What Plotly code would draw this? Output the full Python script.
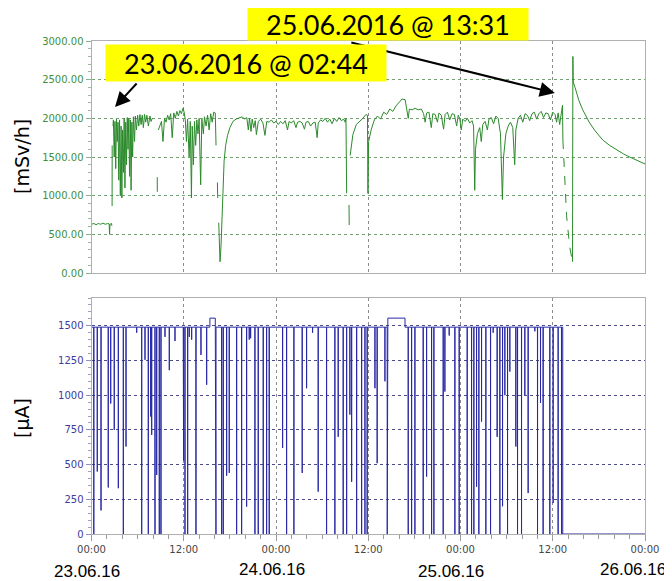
import plotly.graph_objects as go

# ---------------- data ----------------
# hours since 23.06.16 00:00
rad_hours = [0.0, 0.3, 0.6, 0.9, 1.2, 1.5, 1.8, 2.1, 2.3, 2.35, 2.4, 2.6, 2.65, None,
             2.68, 2.69, None,
             2.80, 2.85, 2.95, 3.05, 3.15, 3.25, 3.35, 3.45, 3.55, 3.65, 3.75, 3.85, 3.95, 4.05,
             4.15, 4.25, 4.35, 4.45, 4.55, 4.65, 4.75, 4.85, 4.95, 5.05, 5.15, 5.25, 5.35, 5.45,
             5.6, 5.7, 5.85, 6.0, 6.15, 6.3, 6.45, 6.6, 6.75, 6.9, 7.05, 7.2, 7.4, 7.6, 7.75, 7.9, None,
             8.55, 8.56, None,
             8.7, 8.9, 9.1, 9.3, 9.5, 9.7, 9.9, 10.1, 10.3, 10.5, 10.7, 10.9, 11.1, 11.3, 11.5, 11.7,
             11.9, 12.05, 12.2, 12.35, 12.5, 12.7, 12.85, 13.0, 13.1, 13.25, 13.4, 13.55, 13.7, 13.85,
             14.0, 14.2, 14.35, 14.55, 14.7, 14.9, 15.1, 15.3, 15.5, 15.7, 15.9, 16.05, 16.1, 16.2, None,
             16.38, 16.42, None,
             16.55, 16.65, 16.72, 16.85, 16.95, 17.1, 17.25, 17.45, 17.7, 18.0, 18.4, 18.8, 19.3,
             19.6, 19.9, 20.2, 20.4, 20.55, 20.75, 20.9, 21.1, 21.3, 21.45, 21.7, 22.0, 22.3, 22.56,
             22.8, 23.1, 23.4, 23.7, 24.0, 24.3, 24.6, 24.9, 25.2, 25.5, 25.7, 26.0, 26.3, 26.6, 26.8,
             27.1, 27.4, 27.7, 27.9, 28.2, 28.5, 28.8, 29.1, 29.35, 29.5, 29.8, 30.1, 30.4, 30.7, 31.0,
             31.3, 31.6, 31.9, 32.2, 32.5, 32.8, 33.0, 33.1, 33.19, None,
             33.5, 33.52, None,
             33.65, 34.0, 34.45, 34.8, 35.3, 35.7, 35.9, 35.96, 36.05, 36.4, 36.8, 37.2, 37.6, 38.0,
             38.4, 38.8, 39.2, 39.6, 40.0, 40.4, 40.8, 41.0, 41.2, 41.35, 41.7, 42.1, 42.5, 42.9,
             43.2, 43.4, 43.6, 43.9, 44.2, 44.4, 44.7, 45.0, 45.2, 45.5, 45.8, 46.0, 46.3, 46.6, 46.9,
             47.2, 47.5, 47.7, 47.9, 48.1, 48.3, 48.6, 48.9, 49.2, 49.5, 49.7, 49.85, 49.95, 50.2,
             50.5, 50.7, 50.9, 51.2, 51.5, 51.7, 52.0, 52.3, 52.6, 52.9, 53.2, 53.45, 53.6, 53.9,
             54.2, 54.5, 54.8, 55.05, 55.2, 55.5, 55.8, 56.1, 56.4, 56.7, 57.0, 57.3, 57.6, 57.9,
             58.2, 58.5, 58.8, 59.1, 59.4, 59.7, 60.0, 60.3, 60.5, 60.7, 60.9, 61.1, 61.27, 61.32, None,
             62.57, 62.62, 62.66, 62.9, 63.4, 63.9, 64.4, 64.8, 65.5, 66.5, 67.4, 68.3, 69.2, 70.0,
             70.9, 72.0]
rad_vals = [630, 640, 625, 640, 630, 645, 630, 640, 635, 500, 630, 640, 610, None,
            866, 1650, None,
            1900, 1980, 1500, 1960, 1350, 1990, 1700, 1950, 1200, 1980, 1000, 1900, 970, 1850,
            1300, 2000, 1100, 1950, 1400, 2010, 1600, 2000, 1250, 1980, 1070, 1950, 1500, 2020,
            1700, 2030, 1850, 2040, 1900, 2050, 1920, 2040, 1880, 2050, 1950, 2040, 1900, 2030, 1960, 2000, None,
            1240, 1050, None,
            1850, 1900, 1960, 1700, 2000, 1950, 2040, 1980, 2060, 1750, 2070, 2000, 2090, 2030, 2100, 2060,
            2130, 2080, 1980, 1700, 1990, 1500, 1960, 970, 1900, 1400, 1960, 1650, 1980, 1800,
            2000, 1140, 1990, 1800, 2020, 1900, 2040, 1850, 2060, 1950, 2080, 2070, 2070, 1650, None,
            1170, 970, None,
            650, 250, 146, 350, 650, 1200, 1450, 1650, 1780, 1880, 1960, 1990, 2010,
            2020, 1990, 2010, 1850, 2000, 1830, 1990, 1880, 1970, 1790, 1960, 1990, 1940, 1780,
            1960, 1950, 1980, 1940, 1960, 1920, 1960, 1930, 1970, 1850, 1960, 1940, 1970, 1880, 1950,
            1960, 1940, 1860, 1950, 1960, 1900, 1940, 1950, 1750, 1940, 1980, 1960, 2000, 1950, 1990,
            1930, 2000, 1960, 2010, 1970, 1990, 1950, 2000, 1030, None,
            880, 620, None,
            1520, 1790, 1920, 1950, 2000, 2050, 2040, 1030, 1700, 1860, 1980, 2030, 1990, 2080,
            2050, 2120, 2090, 2160, 2200, 2250, 2240, 2110, 2000, 2120, 2110, 2130, 2110, 2120,
            2060, 1950, 2070, 2080, 1880, 2060, 2050, 1950, 2070, 2040, 1860, 2050, 2080, 1980, 2060,
            2050, 1900, 2040, 2000, 1850, 1990, 1960, 2000, 1940, 1970, 1900, 1070, 1600, 1800,
            1880, 1700, 1920, 1960, 1850, 1990, 2010, 1930, 2030, 2000, 1800, 950, 1500, 1800,
            1900, 1950, 1880, 1400, 1850, 2000, 2040, 1950, 2060, 2040, 1970, 2060, 2080, 1990,
            2060, 2090, 2010, 2070, 2060, 1980, 2080, 2050, 1950, 2070, 1920, 2080, 2170, 1720, None,
            146, 2800, 2470, 2400, 2230, 2110, 2010, 1940, 1840, 1720, 1650, 1590, 1540, 1500,
            1460, 1410]

# sparse (dashed) fall after beam stop
fall_hours = [61.32, 61.6, 61.8, 62.2, 62.57]
fall_vals = [1720, 1150, 740, 340, 146]

# beam current: baseline level changes and drop events
level_hours = [0.0, 15.4, 16.1, 38.55, 40.78, 61.3]
level_vals = [1490, 1555, 1490, 1555, 1490, 0]

drop_hours = [0.30, 0.75, 1.24, 2.18, 2.50, 2.96, 3.49, 4.14, 4.49, 5.88, 6.53, 6.96, 7.39, 7.70,
              7.83, 8.26, 8.48, 8.82, 9.04, 9.56, 10.12, 10.86, 11.94, 11.98, 12.16, 12.51, 12.72,
              13.03, 13.59, 14.24, 14.98, 16.19, 16.93, 17.14, 17.58, 17.92, 18.88, 19.53, 20.18,
              20.52, 20.70, 21.26, 21.69, 22.34, 22.78, 23.12, 24.86, 25.38, 26.33, 27.41, 27.98,
              28.76, 29.49, 30.58, 31.66, 32.09, 32.74, 33.19, 33.61, 33.84, 34.49, 35.14, 35.57,
              35.86, 36.87, 37.16, 38.17, 38.47, 41.20, 41.64, 42.07, 43.15, 43.59, 44.24, 44.54,
              45.75, 45.97, 46.53, 47.27, 47.83, 48.87, 49.44, 49.74, 50.09, 50.39, 50.74, 51.30,
              51.91, 52.25, 52.77, 53.12, 53.47, 53.77, 54.12, 54.42, 55.20, 55.42, 55.94, 56.37,
              56.80, 57.67, 58.02, 58.41, 58.75, 59.62, 60.05, 60.70, 61.14]
drop_mins = [0, 450, 170, 335, 940, 750, 330, 0, 630, 1450, 0, 1255, 0, 846,
             714, 0, 425, 0, 0, 1420, 1180, 1390, 990, 530, 0, 0, 1420,
             1400, 0, 1290, 1075, 0, 0, 0, 420, 440, 0, 0, 197,
             1400, 1410, 0, 0, 0, 0, 0, 620, 0, 0, 440, 1050,
             1450, 305, 0, 0, 700, 0, 0, 860, 376, 0, 0, 0,
             0, 1050, 510, 1100, 0, 0, 0, 0, 0, 413, 0, 0,
             0, 1026, 1430, 0, 0, 0, 0, 0, 341, 0, 810, 0,
             0, 1450, 700, 0, 200, 1000, 0, 1170, 630, 0, 0, 1000,
             295, 1460, 0, 944, 0, 0, 223, 0, 0]

tick_hours = [0, 12, 24, 36, 48, 60, 72]
tick_text = ["00:00", "12:00", "00:00", "12:00", "00:00", "12:00", "00:00"]
date_hours = [0, 24, 48, 72]
date_text = ["23.06.16", "24.06.16", "25.06.16", "26.06.16"]

# ---------------- build current series ----------------
def level_at(t):
    v = level_vals[0]
    for h, lv in zip(level_hours, level_vals):
        if t >= h:
            v = lv
    return v

events = [(0.0, level_vals[0])]
for i in range(1, len(level_hours)):
    events.append((level_hours[i] - 1e-4, level_vals[i - 1]))
    events.append((level_hours[i], level_vals[i]))
for t, m in zip(drop_hours, drop_mins):
    L = level_at(t)
    events += [(t - 0.01, L), (t, m), (t + 0.01, L)]
events.append((72.0, level_at(72.0)))
events.sort(key=lambda e: e[0])
cur_x = [e[0] for e in events]
cur_y = [e[1] for e in events]

# ---------------- figure ----------------
# the page body has an 8px margin: figure sized so it fills the 672x581 window
OFF = 8
W, H = 672 - OFF, 581 - OFF


def px(x):
    return (x - OFF) / W


def py(y):
    return 1 - (y - OFF) / H


xdom = [px(91.5), px(645)]
fig = go.Figure()
green = "#2b8a2b"
fig.add_trace(go.Scatter(x=rad_hours, y=rad_vals, mode="lines", connectgaps=False,
                         line=dict(color=green, width=1), xaxis="x", yaxis="y", showlegend=False))
fig.add_trace(go.Scatter(x=fall_hours, y=fall_vals, mode="lines",
                         line=dict(color=green, width=1, dash="dash"), xaxis="x", yaxis="y",
                         showlegend=False))
fig.add_trace(go.Scatter(x=cur_x, y=cur_y, mode="lines",
                         line=dict(color="#2828a6", width=1), xaxis="x2", yaxis="y2",
                         showlegend=False))

tickfont = dict(family="DejaVu Sans", size=10)
frame = "#b0b0b0"
fig.update_layout(
    width=W, height=H, margin=dict(l=0, r=0, t=0, b=0, autoexpand=False),
    paper_bgcolor="white", plot_bgcolor="white",
    xaxis=dict(domain=xdom, anchor="y", range=[0, 72], tickmode="array", tickvals=tick_hours,
               showticklabels=False, ticks="", showgrid=True, gridcolor="#8c8c8c", griddash="dot",
               gridwidth=1, showline=True, linecolor=frame, mirror=True, zeroline=False,
               automargin=False),
    yaxis=dict(domain=[py(273), py(41)], anchor="x", range=[0, 3000], tick0=0, dtick=500,
               tickformat=".2f", tickfont=dict(color="#3d8f3d", **tickfont), ticks="outside",
               ticklen=5, tickcolor="#8fae8f",
               minor=dict(dtick=100, ticklen=3, ticks="outside", tickcolor="#a0b8a0", showgrid=False),
               showgrid=True, gridcolor="#74a474", griddash="dot", gridwidth=1,
               showline=True, linecolor=frame, mirror=True, zeroline=False, automargin=False),
    xaxis2=dict(domain=xdom, anchor="y2", range=[0, 72], tickmode="array", tickvals=tick_hours,
                ticktext=tick_text, tickfont=dict(color="#454545", **tickfont), ticks="outside",
                ticklen=6, tickcolor="#9a9a9a",
                minor=dict(dtick=2, ticklen=4, ticks="outside", tickcolor="#9a9a9a", showgrid=False),
                showgrid=True, gridcolor="#8c8c8c", griddash="dot", gridwidth=1,
                showline=True, linecolor=frame, mirror=True, zeroline=False, automargin=False),
    yaxis2=dict(domain=[py(534), py(298)], anchor="x2", range=[0, 1700], tick0=0, dtick=250,
                tickfont=dict(color="#3c3ca0", **tickfont), ticks="outside", ticklen=5,
                tickcolor="#9090b8",
                minor=dict(dtick=50, ticklen=3, ticks="outside", tickcolor="#a0a0c0", showgrid=False),
                showgrid=True, gridcolor="#4c4c8c", griddash="dot", gridwidth=1,
                showline=True, linecolor=frame, mirror=True, zeroline=False, automargin=False),
)

ann = []
# axis titles
titlefont = dict(family="DejaVu Sans", size=19, color="black")
ann.append(dict(text="[mSv/h]", x=px(22), y=py(157), xref="paper", yref="paper",
                xanchor="center", yanchor="middle", textangle=-90, showarrow=False, font=titlefont))
ann.append(dict(text="[µA]", x=px(22), y=py(418), xref="paper", yref="paper",
                xanchor="center", yanchor="middle", textangle=-90, showarrow=False, font=titlefont))
# date labels
date_shift = [-5, -4, -10, -12]
date_y = [571, 569, 571, 569]
for h, t, s, yy in zip(date_hours, date_text, date_shift, date_y):
    ann.append(dict(text=t, x=h, xref="x2", y=py(yy), yref="paper", xshift=s,
                    xanchor="center", yanchor="middle", showarrow=False,
                    font=dict(family="Liberation Sans", size=17, color="black")))
# arrows (tip at data point, tail offset in pixels)
ann.append(dict(text="", x=3.06, y=2146, xref="x", yref="y", ax=23, ay=-25, showarrow=True,
                arrowhead=2, arrowsize=1.5, arrowwidth=2, arrowcolor="black"))
ann.append(dict(text="", x=60.27, y=2327, xref="x", yref="y", ax=-205, ay=-51, showarrow=True,
                arrowhead=2, arrowsize=1.5, arrowwidth=2, arrowcolor="black"))
# yellow labels
boxfont = dict(family="Lato", size=27, color="black")
ann.append(dict(text="23.06.2016 @ 02:44", x=px(246), y=py(63), xref="paper", yref="paper",
                xanchor="center", yanchor="middle", showarrow=False, bgcolor="#ffff00",
                width=280, height=36, borderpad=0, font=boxfont))
ann.append(dict(text="25.06.2016 @ 13:31", x=px(388), y=py(24), xref="paper", yref="paper",
                xanchor="center", yanchor="middle", showarrow=False, bgcolor="#ffff00",
                width=280, height=32, borderpad=0, font=boxfont))
fig.update_layout(annotations=ann)

fig.write_html("out.html")
